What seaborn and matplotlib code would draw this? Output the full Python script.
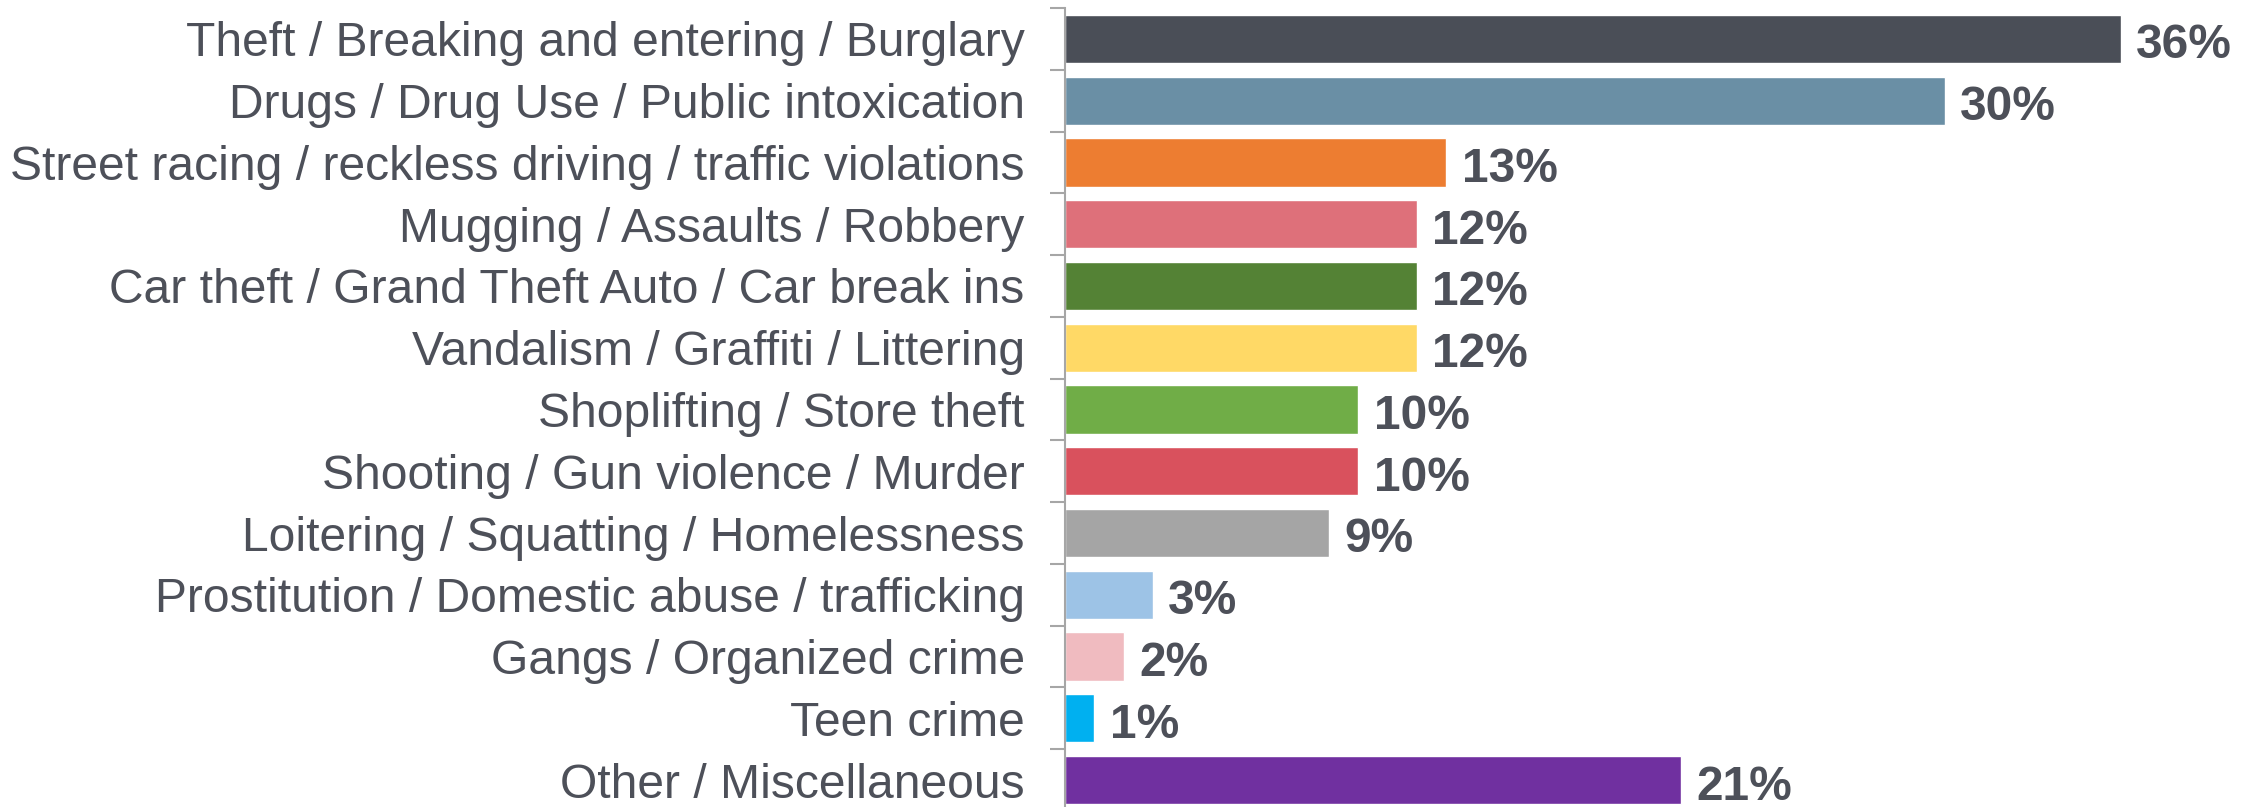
import matplotlib
matplotlib.use("Agg")
import matplotlib.pyplot as plt
import seaborn as sns
import pandas as pd
import numpy as np

categories = [
    "Theft / Breaking and entering / Burglary",
    "Drugs / Drug Use / Public intoxication",
    "Street racing / reckless driving / traffic violations",
    "Mugging / Assaults / Robbery",
    "Car theft / Grand Theft Auto / Car break ins",
    "Vandalism / Graffiti / Littering",
    "Shoplifting / Store theft",
    "Shooting / Gun violence / Murder",
    "Loitering / Squatting / Homelessness",
    "Prostitution / Domestic abuse / trafficking",
    "Gangs / Organized crime",
    "Teen crime",
    "Other / Miscellaneous",
]
values = [36, 30, 13, 12, 12, 12, 10, 10, 9, 3, 2, 1, 21]
colors = ["#4A4E57", "#6A8FA5", "#ED7D31", "#DE707A", "#548235", "#FFD966",
          "#70AD47", "#D9515D", "#A5A5A5", "#9DC3E6", "#F0BBC0", "#00B0F0", "#7030A0"]

sns.set_theme(style="white")
plt.rcParams['font.family'] = ['Liberation Sans', 'DejaVu Sans']

text_color = "#4D5059"
df = pd.DataFrame({"category": categories, "value": values})

fig = plt.figure(figsize=(22.62, 8.07), dpi=100)
ax = fig.add_axes([1065/2262, -4/807, 1 - 1065/2262, (807 - 8 + 4)/807])

sns.barplot(data=df, y="category", x="value", hue="category", palette=colors,
            order=categories, hue_order=categories, orient="h", width=0.78,
            legend=False, ax=ax, saturation=1)

ax.set_xlim(0, (2262 - 1065) / ((2121 - 1065) / 36))
ax.set_ylim(len(categories) - 0.5, -0.5)

for i, v in enumerate(values):
    ax.annotate(f"{v}%", xy=(v, i), xytext=(11, -5), textcoords="offset points",
                va="center", ha="left", fontsize=34.5, fontweight="bold", color=text_color)

ax.set_xlabel("")
ax.set_ylabel("")
ax.set_xticks([])
ax.tick_params(axis="y", which="major", length=0, pad=29, labelsize=34.6, labelcolor=text_color)
ax.set_yticks(np.arange(-0.5, len(categories) + 0.5, 1), minor=True)
ax.tick_params(axis="y", which="minor", length=11, width=1.5, color="#A6A6A6", left=True)
for s in ["top", "right", "bottom"]:
    ax.spines[s].set_visible(False)
ax.spines["left"].set_color("#A6A6A6")
ax.spines["left"].set_linewidth(1.5)

fig.savefig("out.png", dpi=100)
